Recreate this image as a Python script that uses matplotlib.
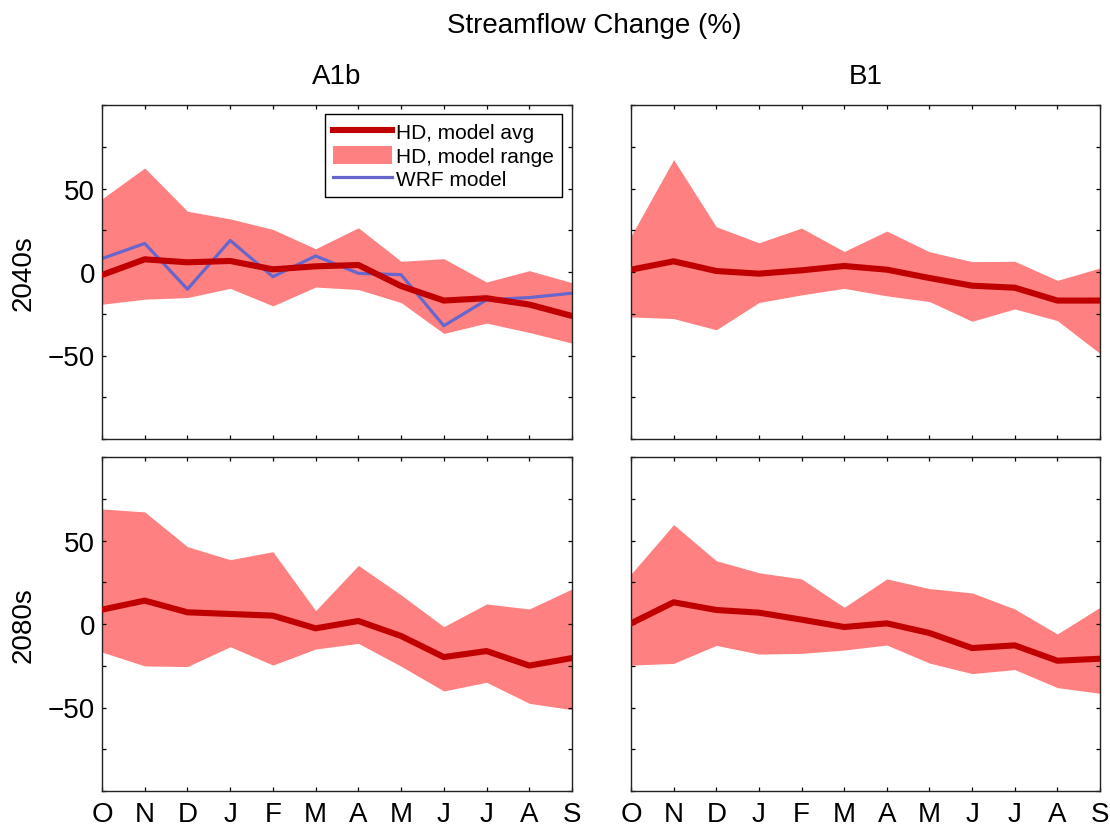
import matplotlib
matplotlib.use("Agg")
import matplotlib.pyplot as plt
import numpy as np

plt.rcParams['font.family'] = ['Liberation Sans', 'DejaVu Sans']

months = ['O', 'N', 'D', 'J', 'F', 'M', 'A', 'M', 'J', 'J', 'A', 'S']
scenarios = ['A1b', 'B1']
periods = ['2040s', '2080s']

# A1b, 2040s
a1b_2040_avg = [-1.8, 7.6, 5.8, 6.6, 1.6, 3.4, 4.2, -8.4, -17.1, -15.7, -19.5, -26.3]
a1b_2040_hi = [43.8, 62.3, 36.4, 31.8, 25.5, 13.9, 26.5, 6.4, 8.0, -6.0, 0.8, -6.4]
a1b_2040_lo = [-19.3, -16.3, -15.3, -9.8, -20.3, -9.0, -10.5, -18.3, -36.8, -30.6, -36.2, -42.6]
a1b_2040_wrf = [8.0, 17.1, -10.3, 18.9, -2.8, 9.6, -0.8, -1.6, -32.2, -16.7, -15.3, -12.7]

# B1, 2040s
b1_2040_avg = [1.4, 6.4, 0.6, -1.0, 1.0, 3.6, 1.4, -3.6, -8.2, -9.4, -17.1, -17.1]
b1_2040_hi = [21.5, 67.3, 27.1, 17.5, 26.3, 12.3, 24.5, 12.1, 6.2, 6.4, -5.0, 2.4]
b1_2040_lo = [-26.9, -27.9, -34.6, -18.3, -13.7, -9.8, -14.3, -17.7, -29.5, -22.1, -29.1, -48.8]

# A1b, 2080s
a1b_2080_avg = [8.6, 14.0, 7.0, 6.0, 5.0, -2.6, 1.8, -7.2, -19.8, -16.2, -24.9, -20.4]
a1b_2080_hi = [68.9, 67.1, 46.3, 38.5, 43.3, 8.0, 35.1, 17.4, -1.6, 12.0, 9.0, 21.0]
a1b_2080_lo = [-16.8, -25.1, -25.5, -13.6, -24.6, -15.0, -11.6, -25.3, -40.1, -34.9, -47.5, -51.3]

# B1, 2080s
b1_2080_avg = [0.4, 13.0, 8.4, 6.8, 2.6, -1.8, 0.4, -5.4, -14.4, -12.8, -22.0, -20.8]
b1_2080_hi = [29.9, 59.5, 37.9, 30.7, 27.0, 10.0, 27.0, 21.2, 18.6, 9.0, -6.0, 10.0]
b1_2080_lo = [-24.6, -23.6, -12.8, -18.0, -17.6, -15.6, -12.6, -23.4, -29.7, -27.3, -38.1, -41.5]

panels = [
    [(a1b_2040_avg, a1b_2040_lo, a1b_2040_hi, a1b_2040_wrf),
     (b1_2040_avg, b1_2040_lo, b1_2040_hi, None)],
    [(a1b_2080_avg, a1b_2080_lo, a1b_2080_hi, None),
     (b1_2080_avg, b1_2080_lo, b1_2080_hi, None)],
]

AVG_COLOR = '#C00000'
RANGE_COLOR = '#FF8080'
WRF_COLOR = '#6666CC'
FS = 20

W, H = 1110, 829
fig = plt.figure(figsize=(W / 100, H / 100), dpi=100)

col_left = [102, 631]
col_width = [470, 469]
row_top = [106, 458]
row_height = 334

x = np.arange(len(months))

for r in range(2):
    for c in range(2):
        l = col_left[c] / W
        b = 1 - (row_top[r] + row_height) / H
        ax = fig.add_axes([l, b, col_width[c] / W, row_height / H])
        avg, lo, hi, wrf = panels[r][c]
        ax.fill_between(x, lo, hi, color=RANGE_COLOR, linewidth=0,
                        label='HD, model range', zorder=1)
        if wrf is not None:
            ax.plot(x, wrf, color=WRF_COLOR, linewidth=2.3,
                    label='WRF model', zorder=2)
        ax.plot(x, avg, color=AVG_COLOR, linewidth=4.4,
                label='HD, model avg', zorder=3)

        ax.set_xlim(0, len(months) - 1)
        ax.set_ylim(-100, 100)
        ax.set_yticks(np.arange(-100, 101, 25))
        ax.set_yticklabels(['' if v not in (-50, 0, 50) else ('\u221250' if v == -50 else str(v))
                            for v in range(-100, 101, 25)])
        ax.set_xticks(x)
        if r == 1:
            ax.set_xticklabels(months)
        else:
            ax.set_xticklabels([])
        if c == 1:
            ax.set_yticklabels([])
        ax.tick_params(direction='in', length=3.2, width=0.9, top=True, right=True,
                       labelsize=FS, pad=5, colors='black')
        ax.tick_params(axis='x', pad=7)
        for sp in ax.spines.values():
            sp.set_linewidth(1.0)
            sp.set_color('#222222')

        if r == 0:
            ax.set_title(scenarios[c], fontsize=FS, pad=16)
        if c == 0:
            ax.set_ylabel(periods[r], fontsize=FS, labelpad=8)

        if r == 0 and c == 0:
            handles, labels = ax.get_legend_handles_labels()
            order = [labels.index('HD, model avg'), labels.index('HD, model range'),
                     labels.index('WRF model')]
            leg = ax.legend([handles[i] for i in order], [labels[i] for i in order],
                            loc='upper right', bbox_to_anchor=(0.9787, 0.973),
                            borderaxespad=0, fontsize=15, frameon=True, fancybox=False,
                            edgecolor='black', framealpha=1, handlelength=2.8,
                            handleheight=0.95, handletextpad=0.2, labelspacing=0.15,
                            borderpad=0.4)
            leg.get_frame().set_linewidth(1.0)

fig.text(594 / W, 1 - 33 / H, 'Streamflow Change (%)', fontsize=FS,
         ha='center', va='baseline')

fig.savefig('out.png', dpi=100)
